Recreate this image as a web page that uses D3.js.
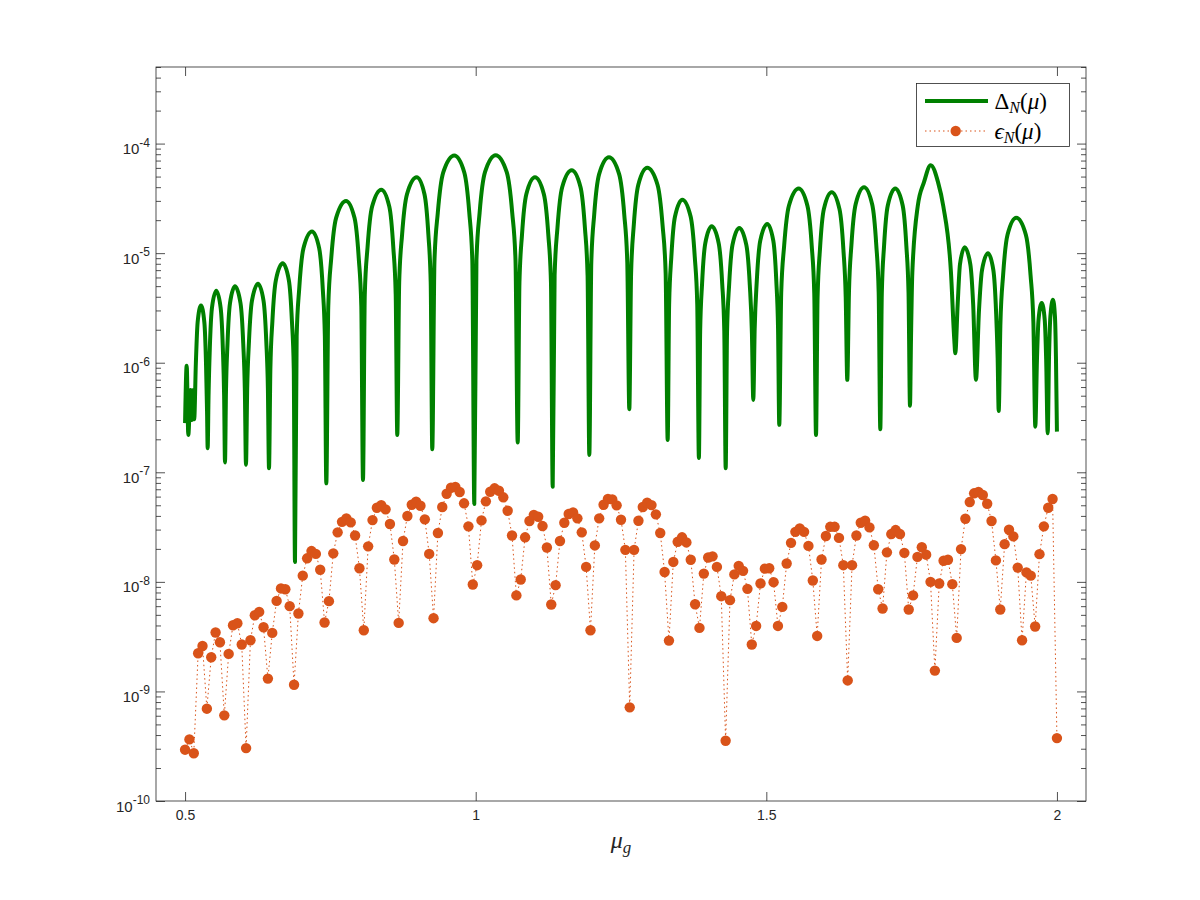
<!DOCTYPE html>
<html>
<head>
<meta charset="utf-8">
<script src="https://cdn.jsdelivr.net/npm/d3@7/dist/d3.min.js"></script>
<style>
  body { margin: 0; background: #fff; }
</style>
</head>
<body>
<div id="graf"></div>
<script>
// I. Datos
// malla de mu para epsilon_N: 0.5 .. 2 con paso 0.0075
const muInicio = 0.5, muPaso = 0.0075, muFin = 2.0

const epsVals = [
  2.94e-10, 3.65e-10, 2.73e-10, 2.23e-9, 2.60e-9, 6.96e-10, 2.05e-9, 3.45e-9, 2.81e-9, 6.05e-10,
  2.20e-9, 4.02e-9, 4.19e-9, 2.68e-9, 3.04e-10, 2.93e-9, 4.96e-9, 5.32e-9, 3.85e-9, 1.31e-9,
  3.42e-9, 6.70e-9, 8.71e-9, 8.57e-9, 6.00e-9, 1.15e-9, 5.14e-9, 1.14e-8, 1.64e-8, 1.91e-8,
  1.80e-8, 1.29e-8, 4.26e-9, 6.67e-9, 1.82e-8, 2.83e-8, 3.53e-8, 3.80e-8, 3.49e-8, 2.65e-8,
  1.33e-8, 3.62e-9, 2.11e-8, 3.66e-8, 4.75e-8, 5.02e-8, 4.59e-8, 3.37e-8, 1.60e-8, 4.22e-9,
  2.36e-8, 3.99e-8, 5.06e-8, 5.38e-8, 4.95e-8, 3.72e-8, 1.80e-8, 4.66e-9, 2.79e-8, 4.82e-8,
  6.37e-8, 7.23e-8, 7.34e-8, 6.61e-8, 5.21e-8, 3.21e-8, 9.46e-9, 1.42e-8, 3.64e-8, 5.43e-8,
  6.65e-8, 7.14e-8, 6.79e-8, 5.91e-8, 4.46e-8, 2.65e-8, 7.52e-9, 1.05e-8, 2.55e-8, 3.59e-8,
  4.09e-8, 3.93e-8, 3.23e-8, 2.06e-8, 6.21e-9, 9.33e-9, 2.36e-8, 3.46e-8, 4.16e-8, 4.31e-8,
  3.80e-8, 2.83e-8, 1.37e-8, 3.62e-9, 2.15e-8, 3.80e-8, 5.06e-8, 5.70e-8, 5.66e-8, 4.99e-8,
  3.69e-8, 1.96e-8, 7.16e-10, 1.96e-8, 3.61e-8, 4.82e-8, 5.27e-8, 5.02e-8, 4.13e-8, 2.79e-8,
  1.23e-8, 2.91e-9, 1.52e-8, 2.32e-8, 2.55e-8, 2.29e-8, 1.59e-8, 6.25e-9, 3.80e-9, 1.19e-8,
  1.67e-8, 1.71e-8, 1.37e-8, 7.40e-9, 3.55e-10, 6.81e-9, 1.17e-8, 1.40e-8, 1.26e-8, 8.63e-9,
  2.68e-9, 3.96e-9, 9.66e-9, 1.32e-8, 1.33e-8, 9.93e-9, 3.96e-9, 5.91e-9, 1.47e-8, 2.27e-8,
  2.86e-8, 3.08e-8, 2.86e-8, 2.13e-8, 1.03e-8, 3.21e-9, 1.60e-8, 2.62e-8, 3.18e-8, 3.18e-8,
  2.52e-8, 1.42e-8, 1.26e-9, 1.42e-8, 2.65e-8, 3.46e-8, 3.61e-8, 3.14e-8, 2.16e-8, 8.57e-9,
  5.71e-9, 1.86e-8, 2.73e-8, 2.97e-8, 2.73e-8, 1.84e-8, 5.60e-9, 7.52e-9, 1.69e-8, 2.07e-8,
  1.77e-8, 1.00e-8, 1.55e-9, 9.66e-9, 1.56e-8, 1.59e-8, 9.53e-9, 3.08e-9, 1.99e-8, 3.77e-8,
  5.35e-8, 6.43e-8, 6.61e-8, 6.21e-8, 5.16e-8, 3.59e-8, 1.57e-8, 5.60e-9, 2.21e-8, 2.99e-8,
  2.60e-8, 1.35e-8, 2.93e-9, 1.22e-8, 1.14e-8, 3.91e-9, 1.79e-8, 3.21e-8, 4.75e-8, 5.70e-8,
  3.75e-10
]

// curva Delta_N: puntos leídos (valles, hombros y picos de cada arco)
const muG = [
  0.5, 0.5028, 0.5056, 0.5094, 0.5116, 0.5142, 0.5157,
  0.5186, 0.5216, 0.5274, 0.5332, 0.5360, 0.5378, 0.5389,
  0.5404, 0.5426, 0.5463, 0.5537, 0.5612, 0.5650, 0.5672, 0.5687,
  0.5704, 0.5730, 0.5773, 0.5859, 0.5954, 0.6001, 0.6029, 0.6048,
  0.6069, 0.6100, 0.6151, 0.6255, 0.6350, 0.6397, 0.6425, 0.6444,
  0.6468, 0.6503, 0.6562, 0.6680, 0.6786, 0.6838, 0.6870, 0.6891,
  0.6920, 0.6964, 0.7037, 0.7184, 0.7307, 0.7369, 0.7405, 0.7430,
  0.7464, 0.7515, 0.7599, 0.7769, 0.7915, 0.7988, 0.8032, 0.8061,
  0.8092, 0.8140, 0.8218, 0.8376, 0.8514, 0.8582, 0.8624, 0.8651,
  0.8684, 0.8734, 0.8818, 0.8985, 0.9119, 0.9186, 0.9226, 0.9253,
  0.9291, 0.9348, 0.9442, 0.9632, 0.9804, 0.9890, 0.9942, 0.9976,
  1.0013, 1.0068, 1.0160, 1.0344, 1.0534, 1.0628, 1.0685, 1.0723,
  1.0753, 1.0797, 1.0871, 1.1020, 1.1173, 1.1249, 1.1295, 1.1325,
  1.1358, 1.1407, 1.1488, 1.1652, 1.1804, 1.1879, 1.1925, 1.1955,
  1.1989, 1.2039, 1.2124, 1.2293, 1.2468, 1.2556, 1.2608, 1.2643,
  1.2674, 1.2720, 1.2798, 1.2952, 1.3128, 1.3215, 1.3268, 1.3303,
  1.3328, 1.3366, 1.3429, 1.3555, 1.3698, 1.3769, 1.3812, 1.3840,
  1.3862, 1.3895, 1.3950, 1.4060, 1.4181, 1.4241, 1.4277, 1.4301,
  1.4324, 1.4360, 1.4418, 1.4535, 1.4656, 1.4716, 1.4752, 1.4776,
  1.4800, 1.4836, 1.4896, 1.5017, 1.5120, 1.5172, 1.5202, 1.5223,
  1.5256, 1.5307, 1.5390, 1.5557, 1.5706, 1.5781, 1.5825, 1.5855,
  1.5882, 1.5923, 1.5990, 1.6125, 1.6259, 1.6326, 1.6366, 1.6393,
  1.6422, 1.6465, 1.6537, 1.6681, 1.6821, 1.6891, 1.6933, 1.6961,
  1.6987, 1.7026, 1.7090, 1.7219, 1.7346, 1.7409, 1.7447, 1.7472,
  1.7489, 1.7512, 1.7605, 1.7713, 1.7828, 1.7954, 1.8045, 1.8177, 1.8234, 1.8251,
  1.8292, 1.8332, 1.8413, 1.8510, 1.8559, 1.8607,
  1.8659, 1.8711, 1.8814, 1.8906, 1.8952, 1.8980, 1.8998,
  1.9028, 1.9074, 1.9150, 1.9301, 1.9465, 1.9546, 1.9595, 1.9628,
  1.9656, 1.9683, 1.9738, 1.9790, 1.9815, 1.9841,
  1.9864, 1.9887, 1.9932, 1.9966, 1.9983, 2.0
]
const deltaG = [
  2.81e-7, 9.4e-7, 2.19e-7, 5.65e-7, 3.0e-7, 5.65e-7, 3.05e-7,
  1.0e-6, 2.33e-6, 3.33e-6, 2.33e-6, 1.0e-6, 3.66e-7, 1.66e-7,
  4.99e-7, 1.36e-6, 3.18e-6, 4.54e-6, 3.18e-6, 1.36e-6, 4.99e-7, 1.23e-7,
  5.48e-7, 1.49e-6, 3.49e-6, 4.98e-6, 3.49e-6, 1.49e-6, 5.48e-7, 1.17e-7,
  5.79e-7, 1.58e-6, 3.68e-6, 5.26e-6, 3.68e-6, 1.58e-6, 5.79e-7, 1.09e-7,
  8.88e-7, 2.42e-6, 5.65e-6, 8.07e-6, 5.65e-6, 2.42e-6, 8.88e-7, 1.52e-8,
  1.74e-6, 4.74e-6, 1.11e-5, 1.58e-5, 1.11e-5, 4.74e-6, 1.74e-6, 7.93e-8,
  3.3e-6, 9.0e-6, 2.1e-5, 3.0e-5, 2.1e-5, 9.0e-6, 3.3e-6, 8.5e-8,
  4.18e-6, 1.14e-5, 2.66e-5, 3.80e-5, 2.66e-5, 1.14e-5, 4.18e-6, 2.19e-7,
  5.42e-6, 1.48e-5, 3.45e-5, 4.93e-5, 3.45e-5, 1.48e-5, 5.42e-6, 1.62e-7,
  8.56e-6, 2.33e-5, 5.45e-5, 7.78e-5, 5.45e-5, 2.33e-5, 8.56e-6, 5.13e-8,
  8.61e-6, 2.35e-5, 5.48e-5, 7.83e-5, 5.48e-5, 2.35e-5, 8.61e-6, 1.87e-7,
  5.42e-6, 1.48e-5, 3.45e-5, 4.93e-5, 3.45e-5, 1.48e-5, 5.42e-6, 7.39e-8,
  6.28e-6, 1.71e-5, 4.0e-5, 5.71e-5, 4.0e-5, 1.71e-5, 6.28e-6, 1.44e-7,
  8.26e-6, 2.25e-5, 5.26e-5, 7.51e-5, 5.26e-5, 2.25e-5, 8.26e-6, 3.77e-7,
  6.61e-6, 1.80e-5, 4.21e-5, 6.01e-5, 4.21e-5, 1.80e-5, 6.61e-6, 1.97e-7,
  3.39e-6, 9.24e-6, 2.16e-5, 3.08e-5, 2.16e-5, 9.24e-6, 3.39e-6, 1.35e-7,
  1.94e-6, 5.28e-6, 1.23e-5, 1.76e-5, 1.23e-5, 5.28e-6, 1.94e-6, 1.09e-7,
  1.87e-6, 5.1e-6, 1.19e-5, 1.70e-5, 1.19e-5, 5.1e-6, 1.87e-6, 4.58e-7,
  2.04e-6, 5.55e-6, 1.30e-5, 1.85e-5, 1.30e-5, 5.55e-6, 2.04e-6, 2.71e-7,
  4.28e-6, 1.17e-5, 2.72e-5, 3.89e-5, 2.72e-5, 1.17e-5, 4.28e-6, 2.19e-7,
  3.96e-6, 1.08e-5, 2.52e-5, 3.60e-5, 2.52e-5, 1.08e-5, 3.96e-6, 6.98e-7,
  4.39e-6, 1.20e-5, 2.79e-5, 3.99e-5, 2.79e-5, 1.20e-5, 4.39e-6, 2.47e-7,
  4.28e-6, 1.17e-5, 2.72e-5, 3.89e-5, 2.72e-5, 1.17e-5, 4.28e-6, 4.04e-7,
  1.62e-6, 6.64e-6, 2.68e-5, 4.45e-5, 6.35e-5, 4.45e-5, 2.68e-5, 6.64e-6, 1.62e-6, 1.22e-6,
  3.39e-6, 7.91e-6, 1.13e-5, 7.91e-6, 3.39e-6, 6.98e-7,
  3.0e-6, 7.0e-6, 1.00e-5, 7.0e-6, 3.0e-6, 1.1e-6, 3.63e-7,
  2.31e-6, 6.3e-6, 1.47e-5, 2.10e-5, 1.47e-5, 6.3e-6, 2.31e-6, 2.61e-7,
  1.05e-6, 2.46e-6, 3.51e-6, 2.46e-6, 1.05e-6, 2.27e-7,
  1.13e-6, 2.63e-6, 3.76e-6, 2.63e-6, 1.13e-6, 2.35e-7
]

const xTicks = [0.5, 1, 1.5, 2]
const yExps = [-10, -9, -8, -7, -6, -5, -4]

// II. Configuración
const W = 1200, H = 900
const margins = { top: 67, left: 156, right: 114, bottom: 99 }
const ancho = W - margins.left - margins.right
const alto = H - margins.top - margins.bottom
const ejeColor = '#262626'
const verde = '#008000'
const naranja = '#D95319'

const svg = d3.select('#graf').append('svg')
  .attr('width', W)
  .attr('height', H)
  .style('font-family', '"Liberation Sans", Arial, sans-serif')

svg.append('rect').attr('width', W).attr('height', H).attr('fill', '#fff')

const g = svg.append('g')
  .attr('transform', `translate(${margins.left}, ${margins.top})`)

const x = d3.scaleLinear().domain([0.45, 2.05]).range([0, ancho])
const y = d3.scaleLog().domain([1e-10, 5e-4]).range([alto, 0])

// III. Ejes
const mayores = yExps.map(e => Math.pow(10, e))
const menores = []
yExps.forEach(e => {
  for (let k = 2; k <= 9; k++) {
    const v = k * Math.pow(10, e)
    if (v <= 5e-4) menores.push(v)
  }
})

function estiloEje(sel) {
  sel.select('.domain').remove()
  sel.selectAll('line').attr('stroke', ejeColor).attr('stroke-width', 0.8)
  sel.selectAll('text').attr('fill', ejeColor)
}

// abajo
const xAxisGroup = g.append('g').attr('transform', `translate(0, ${alto})`)
xAxisGroup.call(d3.axisBottom(x).tickValues(xTicks).tickSizeInner(-9).tickSizeOuter(0)
  .tickPadding(9).tickFormat(d3.format('')))
  .attr('font-size', 14).attr('font-family', null)
estiloEje(xAxisGroup)

// arriba
const xTopGroup = g.append('g')
xTopGroup.call(d3.axisTop(x).tickValues(xTicks).tickSizeInner(-9).tickSizeOuter(0).tickFormat(''))
estiloEje(xTopGroup)

// izquierda
const yAxisGroup = g.append('g')
yAxisGroup.call(d3.axisLeft(y).tickValues(mayores).tickSizeInner(-9).tickSizeOuter(0).tickPadding(6))
  .attr('font-size', 15).attr('font-family', null)
estiloEje(yAxisGroup)
yAxisGroup.selectAll('text')
  .attr('dy', null)
  .attr('y', 10)
  .text('')
  .each(function(d, i) {
    const t = d3.select(this)
    t.append('tspan').text('10')
    t.append('tspan').attr('dy', -7.5).attr('font-size', 12).text(String(yExps[i]))
  })
const yMinorLeft = g.append('g')
yMinorLeft.call(d3.axisLeft(y).tickValues(menores).tickSizeInner(-5).tickSizeOuter(0).tickFormat(''))
estiloEje(yMinorLeft)

// derecha
const yRight = g.append('g').attr('transform', `translate(${ancho}, 0)`)
yRight.call(d3.axisRight(y).tickValues(mayores).tickSizeInner(-9).tickSizeOuter(0).tickFormat(''))
estiloEje(yRight)
const yMinorRight = g.append('g').attr('transform', `translate(${ancho}, 0)`)
yMinorRight.call(d3.axisRight(y).tickValues(menores).tickSizeInner(-5).tickSizeOuter(0).tickFormat(''))
estiloEje(yMinorRight)

// caja
g.append('rect')
  .attr('width', ancho).attr('height', alto)
  .attr('fill', 'none').attr('stroke', ejeColor).attr('stroke-width', 0.8)

// IV. Series
g.append('clipPath').attr('id', 'recorte')
  .append('rect').attr('width', ancho).attr('height', alto)

const series = g.append('g').attr('clip-path', 'url(#recorte)')

const datosG = muG.map((m, i) => ({ mu: m, v: deltaG[i] }))
const linea = d3.line()
  .x(d => x(d.mu))
  .y(d => y(d.v))
  .curve(d3.curveMonotoneX)

series.append('path')
  .datum(datosG)
  .attr('d', linea)
  .attr('fill', 'none')
  .attr('stroke', verde)
  .attr('stroke-width', 4)
  .attr('stroke-linejoin', 'round')

const muE = d3.range(muInicio, muFin + muPaso / 2, muPaso)
const datosE = epsVals.map((v, i) => ({ mu: muE[i], v: v }))

series.append('path')
  .datum(datosE)
  .attr('d', d3.line().x(d => x(d.mu)).y(d => y(d.v)))
  .attr('fill', 'none')
  .attr('stroke', naranja)
  .attr('stroke-width', 1)
  .attr('stroke-dasharray', '1.5,3')

series.selectAll('circle')
  .data(datosE)
  .enter()
  .append('circle')
    .attr('cx', d => x(d.mu))
    .attr('cy', d => y(d.v))
    .attr('r', 5.2)
    .attr('fill', naranja)

// V. Etiqueta eje x
const xlab = svg.append('text')
  .attr('x', margins.left + ancho / 2)
  .attr('y', 848)
  .attr('text-anchor', 'middle')
  .attr('font-family', '"Liberation Serif", "Times New Roman", serif')
  .attr('font-size', 24)
  .attr('fill', ejeColor)
xlab.append('tspan').attr('font-style', 'italic').text('μ')
xlab.append('tspan').attr('font-style', 'italic').attr('font-size', 17).attr('dy', 5).text('g')

// VI. Leyenda
const leg = svg.append('g').attr('transform', 'translate(916.5, 83.5)')
leg.append('rect')
  .attr('width', 153).attr('height', 63)
  .attr('fill', '#fff').attr('stroke', ejeColor).attr('stroke-width', 0.8)

leg.append('line')
  .attr('x1', 8.5).attr('x2', 71.5).attr('y1', 17.5).attr('y2', 17.5)
  .attr('stroke', verde).attr('stroke-width', 4)
leg.append('line')
  .attr('x1', 8.5).attr('x2', 70).attr('y1', 47.5).attr('y2', 47.5)
  .attr('stroke', naranja).attr('stroke-width', 1).attr('stroke-dasharray', '1.5,3')
leg.append('circle').attr('cx', 39.2).attr('cy', 47.5).attr('r', 5.2).attr('fill', naranja)

function etiquetaLeyenda(yBase, simbolo, italica) {
  const t = leg.append('text')
    .attr('x', 78).attr('y', yBase)
    .attr('font-family', '"Liberation Serif", "Times New Roman", serif')
    .attr('font-size', 23)
    .attr('fill', '#000')
  t.append('tspan').attr('font-style', italica ? 'italic' : 'normal').text(simbolo)
  t.append('tspan').attr('font-style', 'italic').attr('font-size', 16).attr('dy', 4).text('N')
  t.append('tspan').attr('dy', -4).text('(')
  t.append('tspan').attr('font-style', 'italic').text('μ')
  t.append('tspan').text(')')
}
etiquetaLeyenda(25, 'Δ', false)
etiquetaLeyenda(55, 'ϵ', true)
</script>
</body>
</html>
